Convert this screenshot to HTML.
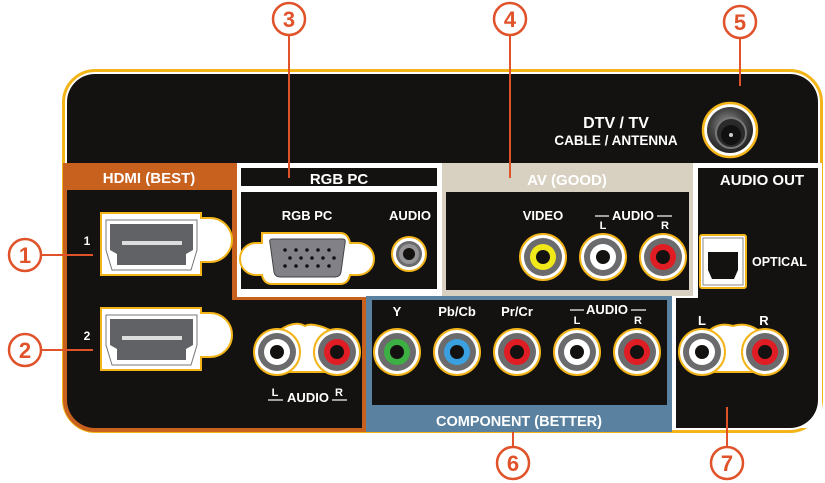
<!DOCTYPE html>
<html><head><meta charset="utf-8"><style>
html,body{margin:0;padding:0;background:#fff;}
svg{display:block;}
text{font-family:"Liberation Sans",sans-serif;font-weight:bold;}
</style></head><body>
<svg width="825" height="483" viewBox="0 0 825 483" xmlns="http://www.w3.org/2000/svg">
<defs>
<g id="hdmi">
  <path d="M101,213 H201 V218 H210 A22,22 0 0 1 210,262 H201 V275 H101 Z" fill="#fff" stroke="#f2b418" stroke-width="2"/>
  <path d="M106,220 H197 V250 L191,270 H112 L106,250 Z" fill="#fff" stroke="#777" stroke-width="1"/>
  <path d="M110,224 H193 V250 L186,254 V265 H117 V254 L110,250 Z" fill="#616265"/>
  <rect x="122" y="241" width="60" height="4" fill="#ddd"/>
</g>
<radialGradient id="cx" cx="0.45" cy="0.4" r="0.6">
  <stop offset="0" stop-color="#999"/><stop offset="0.6" stop-color="#444"/><stop offset="1" stop-color="#222"/>
</radialGradient>
</defs>
<rect x="63.5" y="70.5" width="758" height="361" rx="32" fill="#fff" stroke="#f2b418" stroke-width="3"/>
<rect x="67" y="74" width="751" height="354" rx="28" fill="#141210"/>
<path d="M63,163 H237 V296 H368 V432 H95 A32,32 0 0 1 63,400 Z" fill="#c8601e"/>
<path d="M67,190 H232 V300 H362 V428 H95 A28,28 0 0 1 67,400 Z" fill="#141210"/>
<text x="149" y="183" fill="#fff" font-size="15" text-anchor="middle">HDMI (BEST)</text>
<rect x="237" y="163" width="205" height="134" fill="#fff"/>
<rect x="241" y="168" width="196" height="18" fill="#141210"/>
<rect x="241" y="192" width="196" height="97" fill="#141210"/>
<text x="339" y="184" fill="#fff" font-size="15" text-anchor="middle">RGB PC</text>
<rect x="442" y="163" width="256" height="135" fill="#fff"/>
<rect x="442" y="163" width="251" height="133" fill="#d8d1c2"/>
<rect x="446" y="192" width="243" height="98" fill="#141210"/>
<text x="567" y="185" fill="#fff" font-size="15" text-anchor="middle">AV (GOOD)</text>
<path d="M693,163 H822 V428 H672 V296 H693 Z" fill="#fff"/>
<path d="M698,168 H818 V400 A28,28 0 0 1 790,428 H676 V298 H698 Z" fill="#141210"/>
<text x="762" y="185" fill="#fff" font-size="15" text-anchor="middle">AUDIO OUT</text>
<rect x="366" y="296" width="306" height="136" fill="#5a82a0"/>
<rect x="372" y="300" width="295" height="105" fill="#141210"/>
<text x="519" y="426" fill="#fff" font-size="14.5" text-anchor="middle">COMPONENT (BETTER)</text>
<text x="616" y="128" fill="#fff" font-size="16" text-anchor="middle">DTV / TV</text>
<text x="616" y="145" fill="#fff" font-size="13.5" text-anchor="middle">CABLE / ANTENNA</text>
<circle cx="730" cy="130" r="27" fill="#fff" stroke="#f2b418" stroke-width="2.5"/>
<circle cx="730" cy="130" r="23" fill="url(#cx)"/>
<circle cx="731" cy="133" r="15" fill="#2a2a2a" stroke="#777" stroke-width="2"/>
<circle cx="731" cy="135" r="10" fill="#111"/>
<circle cx="731" cy="135" r="2" fill="#ccc"/>
<use href="#hdmi"/>
<use href="#hdmi" y="95"/>
<text x="87" y="245" fill="#fff" font-size="12" text-anchor="middle">1</text>
<text x="87" y="340" fill="#fff" font-size="12" text-anchor="middle">2</text>
<text x="307" y="220" fill="#fff" font-size="13" text-anchor="middle">RGB PC</text>
<text x="410" y="220" fill="#fff" font-size="13" text-anchor="middle">AUDIO</text>
<path d="M262,233 H340 Q348,233 350,243 H358 A16,16 0 0 1 358,275 H350 Q348,284 340,284 H272 Q264,284 262,275 H256 A16,16 0 0 1 256,243 H262 Z" fill="#fff" stroke="#f2b418" stroke-width="2"/>
<path d="M272,239 H343 Q346,239 345,243 L341,272 Q340,277 335,277 H280 Q275,277 274,272 L270,243 Q269,239 272,239 Z" fill="#818187" stroke="#444" stroke-width="1"/>
<g fill="#111">
<circle cx="285" cy="250" r="1.8"/><circle cx="296" cy="250" r="1.8"/><circle cx="307" cy="250" r="1.8"/><circle cx="318" cy="250" r="1.8"/><circle cx="329" cy="250" r="1.8"/>
<circle cx="290" cy="258" r="1.8"/><circle cx="301" cy="258" r="1.8"/><circle cx="312" cy="258" r="1.8"/><circle cx="323" cy="258" r="1.8"/><circle cx="334" cy="258" r="1.8"/>
<circle cx="285" cy="266" r="1.8"/><circle cx="296" cy="266" r="1.8"/><circle cx="307" cy="266" r="1.8"/><circle cx="318" cy="266" r="1.8"/><circle cx="329" cy="266" r="1.8"/>
</g>
<circle cx="409" cy="254" r="17" fill="#fff" stroke="#f2b418" stroke-width="2"/>
<circle cx="409" cy="254" r="13" fill="#6b6b6d"/>
<circle cx="409" cy="254" r="10" fill="#949497"/>
<circle cx="409" cy="254" r="6" fill="#141210"/>
<circle cx="543" cy="257" r="23" fill="#fff" stroke="#f2b418" stroke-width="2"/><circle cx="543" cy="257" r="19" fill="#6b6b6d"/><circle cx="543" cy="257" r="13" fill="#f0e818"/><circle cx="543" cy="257" r="7" fill="#141210"/>
<circle cx="603" cy="257" r="23" fill="#fff" stroke="#f2b418" stroke-width="2"/><circle cx="603" cy="257" r="19" fill="#6b6b6d"/><circle cx="603" cy="257" r="13" fill="#fff"/><circle cx="603" cy="257" r="7" fill="#141210"/>
<circle cx="663" cy="257" r="23" fill="#fff" stroke="#f2b418" stroke-width="2"/><circle cx="663" cy="257" r="19" fill="#6b6b6d"/><circle cx="663" cy="257" r="13" fill="#e01c24"/><circle cx="663" cy="257" r="7" fill="#141210"/>
<text x="543" y="220" fill="#fff" font-size="13" text-anchor="middle">VIDEO</text>
<text x="633" y="220" fill="#fff" font-size="13" text-anchor="middle">AUDIO</text>
<line x1="595" y1="216" x2="609" y2="216" stroke="#fff" stroke-width="1.2"/><text x="603" y="229" fill="#fff" font-size="11" text-anchor="middle">L</text>
<line x1="657" y1="216" x2="672" y2="216" stroke="#fff" stroke-width="1.2"/><text x="665" y="229" fill="#fff" font-size="11" text-anchor="middle">R</text>
<circle cx="397" cy="352" r="23" fill="#fff" stroke="#f2b418" stroke-width="2"/><circle cx="397" cy="352" r="19" fill="#6b6b6d"/><circle cx="397" cy="352" r="13" fill="#3cb043"/><circle cx="397" cy="352" r="7" fill="#141210"/>
<circle cx="457" cy="352" r="23" fill="#fff" stroke="#f2b418" stroke-width="2"/><circle cx="457" cy="352" r="19" fill="#6b6b6d"/><circle cx="457" cy="352" r="13" fill="#3ba0e0"/><circle cx="457" cy="352" r="7" fill="#141210"/>
<circle cx="517" cy="352" r="23" fill="#fff" stroke="#f2b418" stroke-width="2"/><circle cx="517" cy="352" r="19" fill="#6b6b6d"/><circle cx="517" cy="352" r="13" fill="#e01c24"/><circle cx="517" cy="352" r="7" fill="#141210"/>
<circle cx="577" cy="352" r="23" fill="#fff" stroke="#f2b418" stroke-width="2"/><circle cx="577" cy="352" r="19" fill="#6b6b6d"/><circle cx="577" cy="352" r="13" fill="#fff"/><circle cx="577" cy="352" r="7" fill="#141210"/>
<circle cx="637" cy="352" r="23" fill="#fff" stroke="#f2b418" stroke-width="2"/><circle cx="637" cy="352" r="19" fill="#6b6b6d"/><circle cx="637" cy="352" r="13" fill="#e01c24"/><circle cx="637" cy="352" r="7" fill="#141210"/>
<text x="397" y="316" fill="#fff" font-size="13" text-anchor="middle">Y</text>
<text x="457" y="316" fill="#fff" font-size="13" text-anchor="middle">Pb/Cb</text>
<text x="517" y="316" fill="#fff" font-size="13" text-anchor="middle">Pr/Cr</text>
<text x="607" y="314" fill="#fff" font-size="13" text-anchor="middle">AUDIO</text>
<line x1="570" y1="310" x2="584" y2="310" stroke="#fff" stroke-width="1.2"/><text x="577" y="324" fill="#fff" font-size="11" text-anchor="middle">L</text>
<line x1="631" y1="310" x2="646" y2="310" stroke="#fff" stroke-width="1.2"/><text x="638" y="324" fill="#fff" font-size="11" text-anchor="middle">R</text>
<path d="M280,330 Q295,320 305,326 Q312,322 330,330 L330,372 L280,372 Z" fill="#fff" stroke="#f2b418" stroke-width="2"/>
<circle cx="277" cy="352" r="23" fill="#fff" stroke="#f2b418" stroke-width="2"/><circle cx="277" cy="352" r="19" fill="#6b6b6d"/><circle cx="277" cy="352" r="13" fill="#fff"/><circle cx="277" cy="352" r="7" fill="#141210"/>
<circle cx="337" cy="352" r="23" fill="#fff" stroke="#f2b418" stroke-width="2"/><circle cx="337" cy="352" r="19" fill="#6b6b6d"/><circle cx="337" cy="352" r="13" fill="#e01c24"/><circle cx="337" cy="352" r="7" fill="#141210"/>
<text x="308" y="402" fill="#fff" font-size="13" text-anchor="middle">AUDIO</text>
<line x1="268" y1="400" x2="283" y2="400" stroke="#fff" stroke-width="1.2"/><text x="275" y="396" fill="#fff" font-size="11" text-anchor="middle">L</text>
<line x1="332" y1="400" x2="347" y2="400" stroke="#fff" stroke-width="1.2"/><text x="339" y="396" fill="#fff" font-size="11" text-anchor="middle">R</text>
<rect x="700" y="235" width="46" height="53" rx="2" fill="#fff" stroke="#f2b418" stroke-width="2"/>
<rect x="703" y="238" width="40" height="47" fill="#fff" stroke="#888" stroke-width="1"/>
<path d="M708,252 H738 V270 L734,279 H712 L708,270 Z" fill="#141210"/>
<text x="752" y="266" fill="#fff" font-size="12.5">OPTICAL</text>
<path d="M710,330 Q720,322 733,326 Q746,322 758,330 L758,372 L710,372 Z" fill="#fff" stroke="#f2b418" stroke-width="2"/>
<circle cx="702" cy="352" r="23" fill="#fff" stroke="#f2b418" stroke-width="2"/><circle cx="702" cy="352" r="19" fill="#6b6b6d"/><circle cx="702" cy="352" r="13" fill="#fff"/><circle cx="702" cy="352" r="7" fill="#141210"/>
<circle cx="765" cy="352" r="23" fill="#fff" stroke="#f2b418" stroke-width="2"/><circle cx="765" cy="352" r="19" fill="#6b6b6d"/><circle cx="765" cy="352" r="13" fill="#e01c24"/><circle cx="765" cy="352" r="7" fill="#141210"/>
<text x="702" y="325" fill="#fff" font-size="13" text-anchor="middle">L</text>
<text x="764" y="325" fill="#fff" font-size="13" text-anchor="middle">R</text>
<g stroke="#e0522a" stroke-width="2" fill="none">
<line x1="42" y1="255" x2="93" y2="255"/>
<line x1="42" y1="350" x2="93" y2="350"/>
<line x1="289" y1="34" x2="289" y2="178"/>
<line x1="510" y1="34" x2="510" y2="178"/>
<line x1="740" y1="38" x2="740" y2="86"/>
<line x1="513" y1="432" x2="513" y2="447"/>
<line x1="727" y1="407" x2="727" y2="447"/>
</g>
<g fill="#fff" stroke="#e0522a" stroke-width="2.5">
<circle cx="25" cy="255" r="16"/><circle cx="25" cy="350" r="16"/>
<circle cx="289" cy="19" r="16"/><circle cx="510" cy="19" r="16"/><circle cx="740" cy="22" r="16"/>
<circle cx="513" cy="463" r="16"/><circle cx="727" cy="463" r="16"/>
</g>
<g fill="#e0522a" font-size="22" text-anchor="middle">
<text x="25" y="263">1</text><text x="25" y="358">2</text>
<text x="289" y="27">3</text><text x="510" y="27">4</text><text x="740" y="30">5</text>
<text x="513" y="471">6</text><text x="727" y="471">7</text>
</g>
</svg>
</body></html>
